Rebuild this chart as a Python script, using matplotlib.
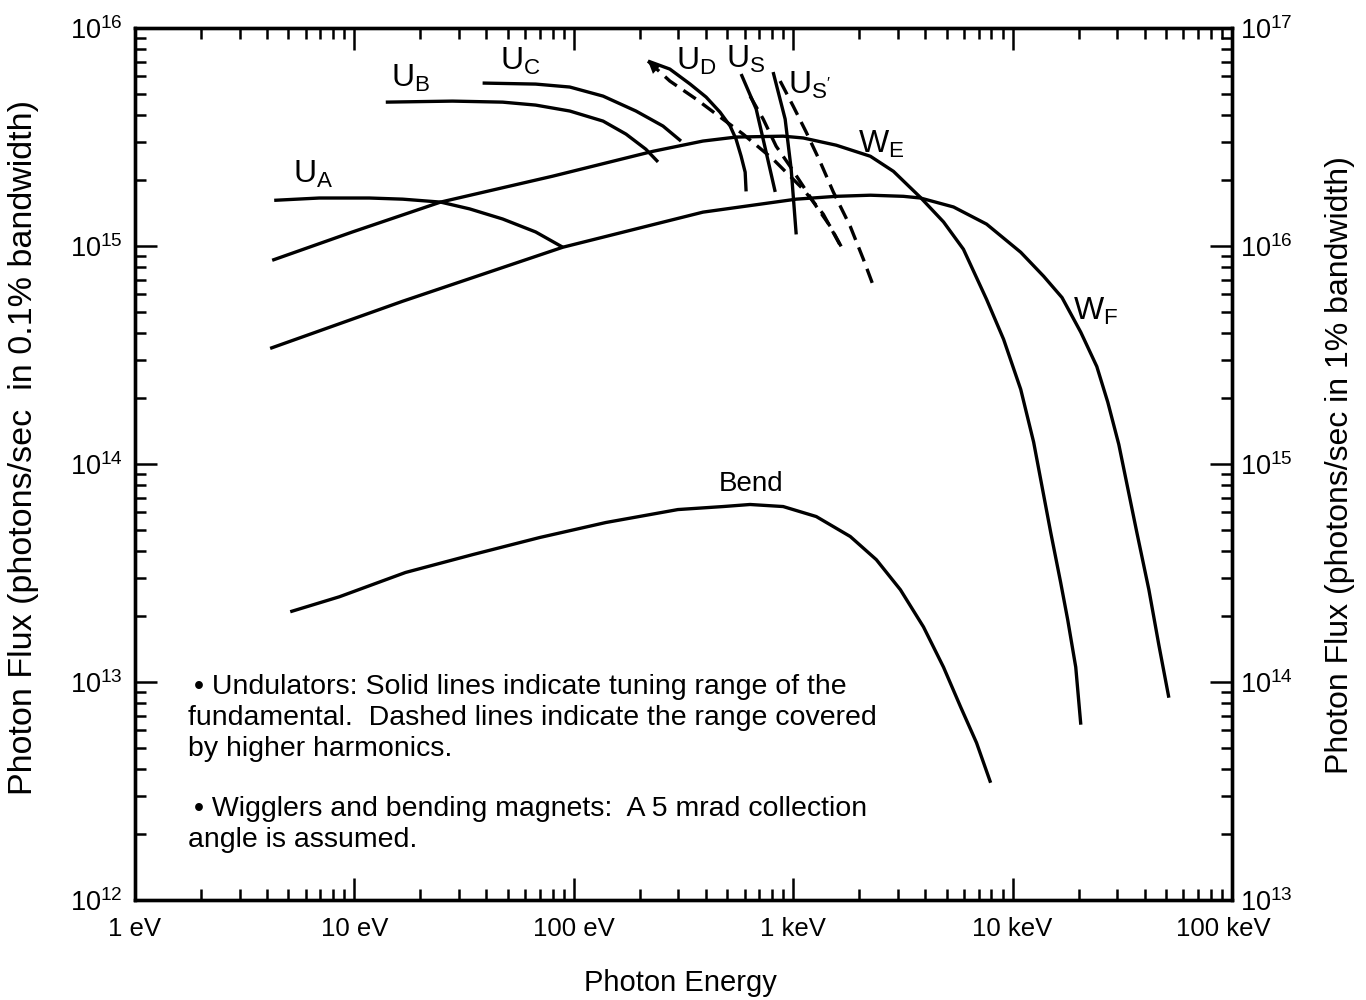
import numpy as np
import matplotlib.pyplot as plt
import matplotlib.transforms as mtransforms
from matplotlib.ticker import FixedLocator, LogLocator, NullFormatter, FixedFormatter

plt.rcParams['font.family'] = ['Liberation Sans', 'DejaVu Sans']
plt.rcParams['mathtext.fontset'] = 'custom'
plt.rcParams['mathtext.rm'] = 'Liberation Sans'
plt.rcParams['mathtext.it'] = 'Liberation Sans:italic'
plt.rcParams['mathtext.default'] = 'regular'

# photon energy in eV, flux in photons/sec/0.1% bw
we_E = [4.22, 9.8, 24.7, 80, 230, 388, 549, 900, 1111, 1571, 2248, 2864, 3802, 4842, 5970, 7610,
        9100, 10890, 12470, 14920, 16560, 17830, 19400, 20460]
we_F = [8.6e14, 1.16e15, 1.59e15, 2.09e15, 2.72e15, 3.03e15, 3.16e15, 3.19e15, 3.13e15, 2.90e15,
        2.58e15, 2.20e15, 1.67e15, 1.29e15, 9.66e14, 5.69e14, 3.73e14, 2.20e14, 1.26e14, 4.85e13,
        2.86e13, 1.93e13, 1.17e13, 6.37e12]

wf_E = [4.13, 16.6, 89.1, 388, 1032, 1571, 2248, 3178, 3802, 5380, 7610, 10890, 13860, 16800, 20460,
        24200, 27160, 30480, 36840, 41800, 46400, 51550]
wf_F = [3.39e14, 5.58e14, 9.87e14, 1.43e15, 1.64e15, 1.69e15, 1.71e15, 1.69e15, 1.66e15, 1.51e15,
        1.26e15, 9.36e14, 7.26e14, 5.80e14, 4.02e14, 2.80e14, 1.92e14, 1.23e14, 4.85e13, 2.65e13,
        1.48e13, 8.47e12]

bend_E = [5.10, 8.54, 17.1, 34.6, 69.9, 140, 298, 479, 636, 900, 1274, 1820, 2393, 3080, 3924, 4842,
          5790, 6850, 7940]
bend_F = [2.10e13, 2.46e13, 3.18e13, 3.84e13, 4.60e13, 5.39e13, 6.18e13, 6.38e13, 6.52e13, 6.38e13,
          5.74e13, 4.65e13, 3.64e13, 2.65e13, 1.79e13, 1.17e13, 7.70e12, 5.26e12, 3.45e12]

ua_E = [4.31, 6.92, 11.7, 16.6, 24.7, 33.5, 47.4, 67.0, 89.1]
ua_F = [1.62e15, 1.66e15, 1.66e15, 1.64e15, 1.59e15, 1.48e15, 1.33e15, 1.16e15, 9.87e14]

ub_E = [13.9, 28.0, 47.4, 67.0, 95.9, 136, 173, 213, 242]
ub_F = [4.57e15, 4.62e15, 4.57e15, 4.43e15, 4.16e15, 3.74e15, 3.26e15, 2.78e15, 2.43e15]

uc_E = [38.4, 67.0, 95.9, 136, 192, 255, 308]
uc_F = [5.59e15, 5.53e15, 5.36e15, 4.87e15, 4.16e15, 3.55e15, 3.03e15]

ud_E = [218, 274, 339, 401, 464, 516, 549, 579, 604, 610]
ud_F = [7.05e15, 6.48e15, 5.53e15, 4.82e15, 4.11e15, 3.55e15, 3.09e15, 2.58e15, 2.18e15, 1.78e15]

us_E = [579, 678, 753, 828]
us_F = [6.15e15, 4.25e15, 2.69e15, 1.77e15]

usp_E = [810, 919, 979, 1032]
usp_F = [6.28e15, 3.82e15, 2.25e15, 1.13e15]

# higher harmonics (dashed)
ud_h_E = [218, 274, 361, 445, 591, 810, 1111, 1371, 1656]
ud_h_F = [7.05e15, 5.71e15, 4.72e15, 4.03e15, 3.26e15, 2.50e15, 1.82e15, 1.40e15, 9.87e14]

us_h_E = [636, 730, 836, 968, 1111, 1274, 1476, 1710]
us_h_F = [4.87e15, 3.82e15, 2.87e15, 2.32e15, 1.88e15, 1.52e15, 1.23e15, 9.36e14]

usp_h_E = [872, 1000, 1146, 1328, 1523, 1820, 2089, 2296]
usp_h_F = [5.71e15, 4.38e15, 3.33e15, 2.43e15, 1.77e15, 1.23e15, 8.69e14, 6.74e14]

# curve labels: text, energy, flux
labels = [(r'U$_A$', 6.5, 2.14e15), (r'U$_B$', 18.0, 5.84e15), (r'U$_C$', 57.3, 7.05e15),
          (r'U$_D$', 361, 7.05e15), (r'U$_S$', 610, 7.21e15), (r"U$_{S'}$", 1183, 5.47e15),
          (r'W$_E$', 2523, 2.93e15), (r'W$_F$', 24000, 5.01e14)]

x_ticks = [1, 10, 100, 1e3, 1e4, 1e5]
x_ticklabels = ['1 eV', '10 eV', '100 eV', '1 keV', '10 keV', '100 keV']
yl_ticks = [1e12, 1e13, 1e14, 1e15, 1e16]
yr_ticks = [1e13, 1e14, 1e15, 1e16, 1e17]

fig = plt.figure(figsize=(13.66, 10), dpi=100)
ax = fig.add_axes([135/1366, 100/1000, 1097/1366, 872/1000])

lw = 2.4
for E, F in [(we_E, we_F), (wf_E, wf_F), (bend_E, bend_F), (ua_E, ua_F), (ub_E, ub_F),
             (uc_E, uc_F), (ud_E, ud_F), (us_E, us_F), (usp_E, usp_F)]:
    ax.plot(E, F, color='black', lw=lw, solid_capstyle='butt', solid_joinstyle='round')
for E, F in [(ud_h_E, ud_h_F), (us_h_E, us_h_F), (usp_h_E, usp_h_F)]:
    ax.plot(E, F, color='black', lw=lw, ls=(0, (4.5, 2.4)), dash_capstyle='butt')

# arrow head at the start of U_D
ax.annotate('', xy=(ud_h_E[0], ud_h_F[0]), xytext=(ud_h_E[1], ud_h_F[1]),
            arrowprops=dict(arrowstyle='-|>', color='black', lw=0, mutation_scale=22, shrinkA=0, shrinkB=0))

for txt, ex, fy in labels:
    ax.text(ex, fy, txt, fontsize=23, ha='center', va='center')
ax.text(643, 8.13e13, 'Bend', fontsize=20, ha='center', va='center')

ax.set_xscale('log')
ax.set_yscale('log')
ax.set_xlim(1, 1e5)
ax.set_ylim(1e12, 1e16)
ax.xaxis.set_major_locator(FixedLocator(x_ticks))
ax.xaxis.set_major_formatter(FixedFormatter(x_ticklabels))
ax.xaxis.set_minor_locator(LogLocator(base=10, subs=np.arange(2, 10)))
ax.xaxis.set_minor_formatter(NullFormatter())
ax.yaxis.set_major_locator(FixedLocator(yl_ticks))
ax.yaxis.set_minor_locator(LogLocator(base=10, subs=np.arange(2, 10)))
ax.yaxis.set_minor_formatter(NullFormatter())
ax.tick_params(which='both', direction='in', top=True, right=False, width=1.8)
ax.tick_params(axis='x', labelsize=18.5)
ax.tick_params(axis='y', labelsize=19.5)
ax.tick_params(which='major', length=16, pad=9)
ax.tick_params(axis='x', which='major', pad=12)
ax.tick_params(which='minor', length=8)
for s in ax.spines.values():
    s.set_linewidth(2.4)
# last energy label sits a little left of its tick, as in the original
last = ax.get_xticklabels()[-1]
last.set_transform(last.get_transform() + mtransforms.ScaledTranslation(-9/100, 0, fig.dpi_scale_trans))

ax2 = ax.twinx()
ax2.set_yscale('log')
ax2.set_ylim(1e13, 1e17)
ax2.yaxis.set_major_locator(FixedLocator(yr_ticks))
ax2.yaxis.set_minor_locator(LogLocator(base=10, subs=np.arange(2, 10)))
ax2.yaxis.set_minor_formatter(NullFormatter())
ax2.tick_params(which='both', direction='in', width=1.8, labelsize=19.5)
ax2.tick_params(which='major', length=16, pad=6)
ax2.tick_params(which='minor', length=8)
for s in ax2.spines.values():
    s.set_linewidth(2.4)

fig.text(24/1366, 1 - 447/1000, 'Photon Flux (photons/sec  in 0.1% bandwidth)', rotation=90,
         fontsize=24.5, ha='center', va='center')
fig.text(1340/1366, 1 - 465/1000, 'Photon Flux (photons/sec in 1% bandwidth)', rotation=90,
         fontsize=23, ha='center', va='center')
fig.text(680/1366, 1 - 983/1000, 'Photon Energy', fontsize=21, ha='center', va='center')

note = [(194, 687, '\u2022 Undulators: Solid lines indicate tuning range of the'),
        (188, 718, 'fundamental.  Dashed lines indicate the range covered'),
        (188, 749, 'by higher harmonics.'),
        (194, 809, '\u2022 Wigglers and bending magnets:  A 5 mrad collection'),
        (188, 840, 'angle is assumed.')]
for px, py, line in note:
    fig.text(px/1366, 1 - py/1000, line, fontsize=20.5, ha='left', va='center')

fig.savefig('out.png', dpi=100)
